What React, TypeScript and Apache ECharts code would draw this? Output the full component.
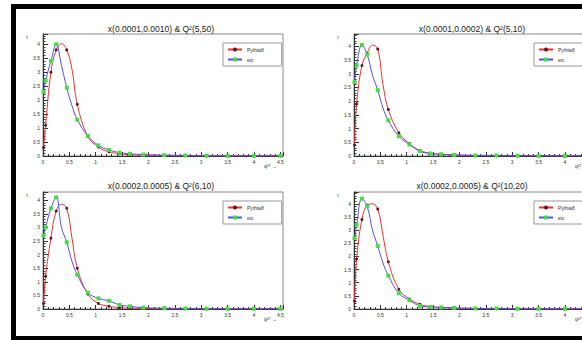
import React, { useEffect, useRef } from "react";
import * as echarts from "echarts";

// q_T sample points shared by every panel
const qtCentres = [0.01, 0.05, 0.15, 0.25, 0.35, 0.45, 0.55, 0.65, 0.85, 1.05, 1.25, 1.45, 1.65, 1.9, 2.3, 2.7, 3.1, 3.5, 4.0, 4.5];
// points that only shape the smooth curve and carry no marker
const curveOnly = [0.35, 0.55];

const panelTitles = [
  "x(0.0001,0.0010) & Q²(5,50)",
  "x(0.0001,0.0002) & Q²(5,10)",
  "x(0.0002,0.0005) & Q²(6,10)",
  "x(0.0002,0.0005) & Q²(10,20)",
];

const seriesNames = ["Pythia8", "eic"];

// normalised distributions, one array per panel and generator
const pythiaA = [0.3, 1.1, 3.0, 3.8, 4.02, 3.8, 3.1, 1.85, 0.7, 0.32, 0.15, 0.08, 0.05, 0.03, 0.02, 0.01, 0.01, 0.005, 0.005, 0.005];
const eicA = [2.3, 2.7, 3.4, 4.0, 3.25, 2.45, 1.8, 1.3, 0.72, 0.38, 0.22, 0.12, 0.08, 0.05, 0.03, 0.02, 0.01, 0.01, 0.01, 0.01];

const pythiaB = [0.4, 1.9, 3.3, 3.75, 4.05, 3.9, 2.6, 1.7, 0.85, 0.45, 0.2, 0.1, 0.06, 0.04, 0.02, 0.01, 0.01, 0.01, 0.005, 0.005];
const eicB = [2.7, 3.3, 4.05, 3.7, 2.95, 2.4, 1.75, 1.3, 0.72, 0.42, 0.17, 0.09, 0.06, 0.04, 0.02, 0.02, 0.01, 0.01, 0.01, 0.01];

const pythiaC = [0.2, 1.2, 2.6, 3.6, 3.85, 3.7, 2.6, 1.5, 0.55, 0.2, 0.1, 0.05, 0.03, 0.02, 0.01, 0.01, 0.005, 0.005, 0.005, 0.005];
const eicC = [2.7, 3.0, 3.7, 4.1, 3.0, 2.45, 1.75, 1.26, 0.6, 0.39, 0.3, 0.15, 0.1, 0.05, 0.03, 0.02, 0.01, 0.01, 0.01, 0.01];

const pythiaD = [0.3, 1.9, 3.4, 3.95, 4.0, 3.8, 2.8, 1.8, 0.75, 0.38, 0.18, 0.09, 0.06, 0.04, 0.02, 0.01, 0.01, 0.005, 0.005, 0.005];
const eicD = [2.7, 3.2, 4.2, 3.9, 3.0, 2.4, 1.75, 1.27, 0.6, 0.33, 0.12, 0.08, 0.06, 0.04, 0.02, 0.02, 0.01, 0.01, 0.01, 0.01];

const yMaxes = [4.37, 4.45, 4.3, 4.45];
const xMax = 4.55;

const FONT = "Liberation Sans, Arial, sans-serif";

// frame geometry of the 2x2 pads
const colLeft = [43, 354];
const rowTop = [34, 192];
const rowHeight = [122, 117];
const frameWidth = 240;
const colShift = 311;
const rowTitleY = [29, 186];

const stepLabel = (v: number) => {
  const k = v / 0.5;
  return Math.abs(k - Math.round(k)) < 1e-6 ? String(Math.round(v * 10) / 10) : "";
};

export default function App() {
  const ref = useRef<HTMLDivElement>(null);

  useEffect(() => {
    if (!ref.current) return;
    const chart = echarts.init(ref.current, null, { renderer: "svg" });

    const pythia = [pythiaA, pythiaB, pythiaC, pythiaD];
    const eic = [eicA, eicB, eicC, eicD];

    const toData = (values: number[]) =>
      qtCentres.map((x, k) =>
        curveOnly.includes(x) ? { value: [x, values[k]], symbol: "none" } : { value: [x, values[k]] }
      );

    const pads = [0, 1, 2, 3].map((i) => {
      const col = i % 2;
      const row = Math.floor(i / 2);
      return {
        left: colLeft[col],
        top: rowTop[row],
        height: rowHeight[row],
        titleX: 161 + col * colShift,
        titleY: rowTitleY[row],
      };
    });

    const axisColor = "#333";

    const grid = pads.map((p) => ({
      left: p.left,
      top: p.top,
      width: frameWidth,
      height: p.height,
      show: true,
      borderColor: "#8a8a8a",
      borderWidth: 1,
      backgroundColor: "transparent",
    }));

    const xAxis = pads.map((_, i) => ({
      type: "value",
      gridIndex: i,
      min: 0,
      max: xMax,
      interval: 0.5,
      axisLine: { show: true, onZero: false, lineStyle: { color: axisColor, width: 1 } },
      axisTick: { show: true, inside: true, length: 4, lineStyle: { color: axisColor } },
      minorTick: { show: true, splitNumber: 5, length: 2, lineStyle: { color: axisColor } },
      splitLine: { show: false },
      axisLabel: { fontSize: 5, color: "#333", margin: 3, fontFamily: FONT, formatter: stepLabel },
    }));

    const yAxis = pads.map((_, i) => ({
      type: "value",
      gridIndex: i,
      min: 0,
      max: yMaxes[i],
      interval: 0.5,
      axisLine: { show: true, onZero: false, lineStyle: { color: axisColor, width: 1 } },
      axisTick: { show: true, inside: true, length: 5, lineStyle: { color: axisColor } },
      minorTick: { show: true, splitNumber: 5, length: 2.5, lineStyle: { color: axisColor } },
      splitLine: { show: false },
      axisLabel: { fontSize: 5, color: "#333", margin: 3, fontFamily: FONT, formatter: stepLabel },
    }));

    const series: any[] = [];
    pads.forEach((_, i) => {
      series.push({
        name: seriesNames[0],
        type: "line",
        xAxisIndex: i,
        yAxisIndex: i,
        data: toData(pythia[i]),
        smooth: 0.4,
        symbol: "circle",
        symbolSize: 3,
        showAllSymbol: true,
        itemStyle: { color: "#5a1818" },
        lineStyle: { color: "#ee3030", width: 1 },
        z: 3,
      });
      series.push({
        name: seriesNames[1],
        type: "line",
        xAxisIndex: i,
        yAxisIndex: i,
        data: toData(eic[i]),
        smooth: 0.4,
        symbol: "rect",
        symbolSize: 4,
        showAllSymbol: true,
        itemStyle: { color: "#44dd44" },
        lineStyle: { color: "#5050f0", width: 1 },
        z: 4,
      });
    });

    const legend = pads.map((p) => ({
      data: seriesNames,
      orient: "vertical",
      left: p.left + 180,
      top: p.top + 9,
      padding: [4, 18, 4, 4],
      itemGap: 5,
      itemWidth: 14,
      itemHeight: 5,
      borderColor: "#999",
      borderWidth: 1,
      backgroundColor: "#fff",
      selectedMode: false,
      textStyle: { fontSize: 5, color: "#333", fontFamily: FONT },
    }));

    const graphic: any[] = [
      // outer black canvas frame
      { type: "rect", shape: { x: 11, y: 4, width: 5, height: 336 }, style: { fill: "#000" }, z: 100 },
      { type: "rect", shape: { x: 11, y: 4, width: 640, height: 5 }, style: { fill: "#000" }, z: 100 },
      { type: "rect", shape: { x: 11, y: 336, width: 640, height: 5 }, style: { fill: "#000" }, z: 100 },
    ];
    pads.forEach((p, i) => {
      graphic.push({
        type: "text",
        x: p.titleX,
        y: p.titleY,
        style: {
          text: panelTitles[i],
          fontSize: 8.5,
          fontFamily: FONT,
          fill: "#222",
          align: "center",
          verticalAlign: "middle",
        },
      });
      graphic.push({
        type: "text",
        x: p.left - 16,
        y: p.top + 3,
        style: { text: "t", fontSize: 5, fontFamily: FONT, fill: "#333", align: "center", verticalAlign: "middle" },
      });
      graphic.push({
        type: "text",
        x: p.left + frameWidth - 6,
        y: p.top + p.height + 10,
        style: { text: "q²ᵀ →", fontSize: 5, fontFamily: FONT, fill: "#333", align: "right", verticalAlign: "middle" },
      });
    });

    chart.setOption({
      animation: false,
      backgroundColor: "#fff",
      grid,
      xAxis,
      yAxis,
      series,
      legend,
      graphic,
    } as any);

    return () => chart.dispose();
  }, []);

  return (
    <div
      style={{
        position: "absolute",
        left: 0,
        top: 0,
        width: 582,
        height: 340,
        overflow: "hidden",
        background: "#fff",
      }}
    >
      <div ref={ref} style={{ width: 660, height: 340 }} />
    </div>
  );
}
